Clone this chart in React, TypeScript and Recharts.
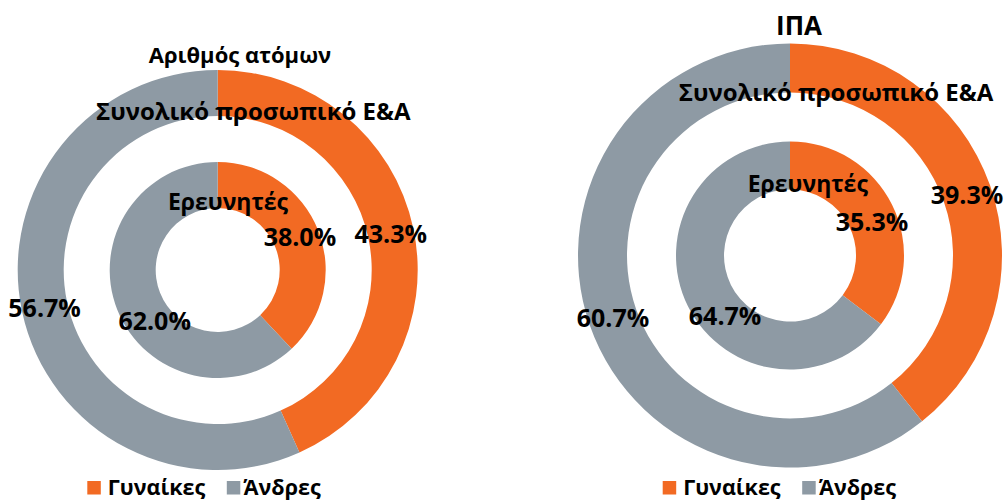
import React from "react";
import { PieChart, Pie, Cell } from "recharts";

const categories = ["Γυναίκες", "Άνδρες"];
const colors = ["#F26A23", "#8E9AA4"];

const leftOuterValues = [43.3, 56.7];
const leftInnerValues = [38.0, 62.0];
const rightOuterValues = [39.3, 60.7];
const rightInnerValues = [35.3, 64.7];

const leftTitle = "Αριθμός ατόμων";
const rightTitle = "ΙΠΑ";
const outerRingLabel = "Συνολικό προσωπικό Ε&Α";
const innerRingLabel = "Ερευνητές";

const FONT = "'Open Sans', 'Noto Sans', sans-serif";
const RADIAN = Math.PI / 180;

const toRows = (vals: number[]) => categories.map((name, i) => ({ name, value: vals[i] }));

const makeLabel = (shift: number[], radiusAdj: number[]) => (props: any) => {
  const { cx, cy, midAngle, innerRadius, outerRadius, value, index } = props;
  const ang = midAngle + (shift[index] || 0);
  const r = (innerRadius + outerRadius) / 2 + (radiusAdj[index] || 0);
  const x = cx + r * Math.cos(ang * RADIAN);
  const y = cy - r * Math.sin(ang * RADIAN);
  return (
    <text
      x={x}
      y={y}
      textAnchor="middle"
      dominantBaseline="central"
      fill="#000"
      fontFamily={FONT}
      fontWeight={700}
      fontSize={25}
    >
      {Number(value).toFixed(1)}%
    </text>
  );
};

const ringPie = (
  key: string,
  vals: number[],
  cx: number,
  cy: number,
  ir: number,
  or: number,
  label: any
) => (
  <Pie
    key={key}
    data={toRows(vals)}
    dataKey="value"
    nameKey="name"
    cx={cx}
    cy={cy}
    innerRadius={ir}
    outerRadius={or}
    startAngle={90}
    endAngle={-270}
    stroke="none"
    isAnimationActive={false}
    labelLine={false}
    label={label}
  >
    {vals.map((_, i) => (
      <Cell key={i} fill={colors[i]} />
    ))}
  </Pie>
);

const Legend2 = ({ x0 }: { x0: number }) => (
  <g>
    <rect x={x0} y={481} width={13.5} height={13.5} fill={colors[0]} />
    <text x={x0 + 20.5} y={494.5} fontFamily={FONT} fontWeight={700} fontSize={21.5} fill="#000">
      {categories[0]}
    </text>
    <rect x={x0 + 139.5} y={481} width={13.5} height={13.5} fill={colors[1]} />
    <text x={x0 + 156} y={494.5} fontFamily={FONT} fontWeight={700} fontSize={21.5} fill="#000">
      {categories[1]}
    </text>
  </g>
);

export default function App() {
  return (
    <div style={{ position: "absolute", left: 0, top: 0, width: 1006, height: 500, background: "#fff", overflow: "hidden" }}>
      <PieChart
        width={1006}
        height={500}
        margin={{ top: 0, right: 0, bottom: 0, left: 0 }}
        style={{ position: "absolute", left: 0, top: 0 }}
      >
        {ringPie("lo", leftOuterValues, 217.7, 270, 154, 200, makeLabel([0, 0], [0, 0]))}
        {ringPie("li", leftInnerValues, 217.7, 270, 62, 108, makeLabel([0.9, 16.8], [4, -4.6]))}
        {ringPie("ro", rightOuterValues, 790, 255.5, 163, 212, makeLabel([0, 0], [0, 0]))}
        {ringPie("ri", rightInnerValues, 790, 255.5, 66, 114, makeLabel([-3.6, 16], [-1, -2]))}
      </PieChart>
      <svg width={1006} height={500} style={{ position: "absolute", left: 0, top: 0, pointerEvents: "none" }}>
        <text x={240} y={63} textAnchor="middle" fontFamily={FONT} fontWeight={700} fontSize={22} fill="#000">
          {leftTitle}
        </text>
        <text x={253.3} y={120} textAnchor="middle" fontFamily={FONT} fontWeight={700} fontSize={24} fill="#000">
          {outerRingLabel}
        </text>
        <text x={228} y={210} textAnchor="middle" fontFamily={FONT} fontWeight={700} fontSize={23} fill="#000">
          {innerRingLabel}
        </text>
        <text x={799} y={35} textAnchor="middle" fontFamily={FONT} fontWeight={700} fontSize={26} fill="#000">
          {rightTitle}
        </text>
        <text x={836} y={100.7} textAnchor="middle" fontFamily={FONT} fontWeight={700} fontSize={24} fill="#000">
          {outerRingLabel}
        </text>
        <text x={807.8} y={192.3} textAnchor="middle" fontFamily={FONT} fontWeight={700} fontSize={23} fill="#000">
          {innerRingLabel}
        </text>
        <Legend2 x0={87.3} />
        <Legend2 x0={662.7} />
      </svg>
    </div>
  );
}
